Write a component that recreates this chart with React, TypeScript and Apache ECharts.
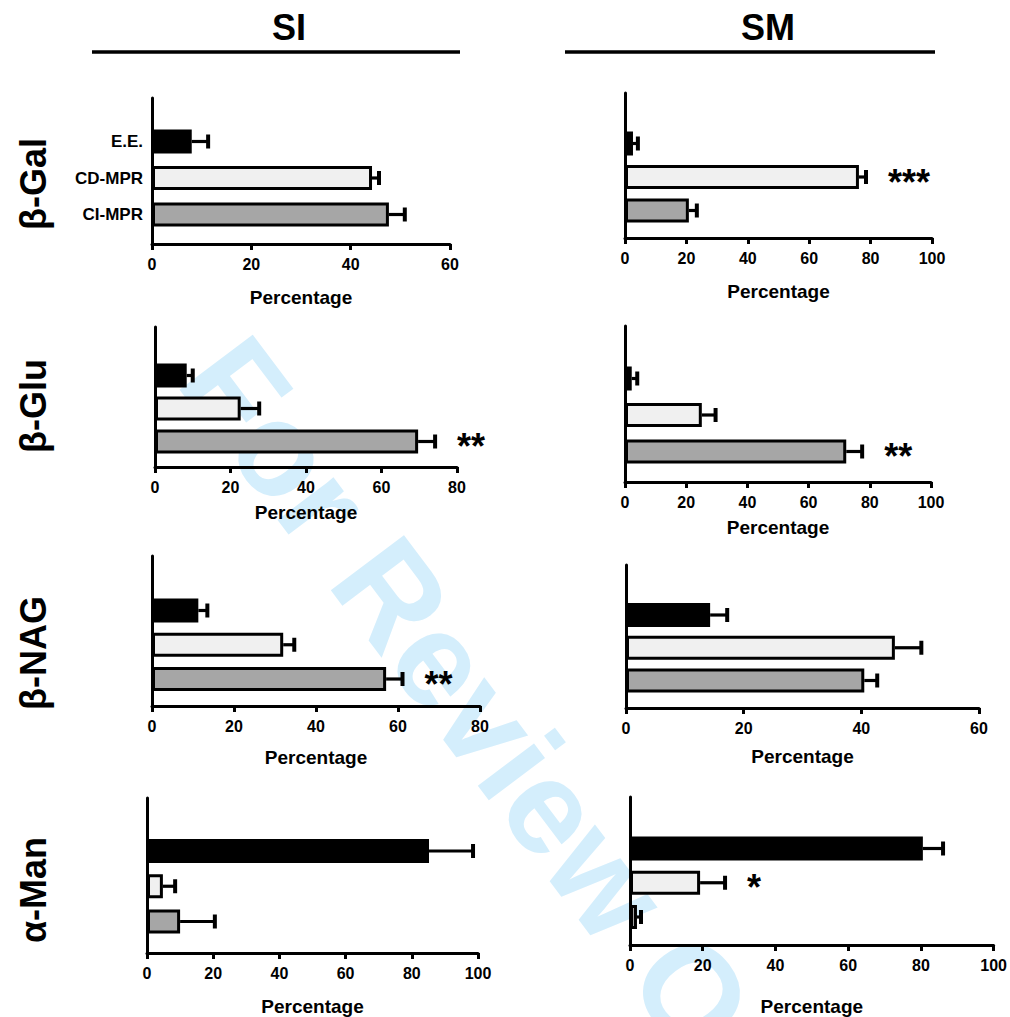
import React, { useEffect, useRef } from "react";
import * as echarts from "echarts";

// ---------- data ----------
const categories = ["E.E.", "CD-MPR", "CI-MPR"];
const barColors = ["#000000", "#f0f0f0", "#a6a6a6"];
const rowTitles = ["β-Gal", "β-Glu", "β-NAG", "α-Man"];
const colTitles = ["SI", "SM"];
const axisName = "Percentage";
const tickInterval = 20;

// panels: SI β-Gal, SM β-Gal, SI β-Glu, SM β-Glu, SI β-NAG, SM β-NAG, SI α-Man, SM α-Man
const axisMax = [60, 100, 80, 100, 80, 60, 100, 100];

const siGalMean = [8.0, 44.3, 47.7];
const siGalErr = [3.3, 1.4, 3.2];
const smGalMean = [2.6, 76.2, 20.8];
const smGalErr = [1.6, 2.3, 2.6];
const siGluMean = [8.4, 22.7, 69.7];
const siGluErr = [1.6, 4.9, 4.5];
const smGluMean = [2.2, 25.1, 72.3];
const smGluErr = [1.8, 4.5, 5.2];
const siNagMean = [11.3, 32.0, 57.1];
const siNagErr = [2.2, 2.7, 4.0];
const smNagMean = [14.3, 45.7, 40.5];
const smNagErr = [2.9, 4.5, 2.2];
const siManMean = [85.2, 4.8, 10.0];
const siManErr = [13.3, 3.7, 10.5];
const smManMean = [79.8, 19.1, 1.9];
const smManErr = [5.5, 6.8, 1.1];

const panelMeans = [siGalMean, smGalMean, siGluMean, smGluMean, siNagMean, smNagMean, siManMean, smManMean];
const panelErrs = [siGalErr, smGalErr, siGluErr, smGluErr, siNagErr, smNagErr, siManErr, smManErr];
const significance = [
  ["", "", ""],
  ["", "***", ""],
  ["", "", "**"],
  ["", "", "**"],
  ["", "", "**"],
  ["", "", ""],
  ["", "", ""],
  ["", "*", ""],
];

// ---------- layout (pixels) ----------
const layout = [
  { yx: 152, top: 98, axisY: 244, xEnd: 450, c0: 141.5, band: 36.5, nameGap: 44 },
  { yx: 625, top: 93, axisY: 238, xEnd: 932, c0: 143.5, band: 33.5, nameGap: 44 },
  { yx: 155, top: 327, axisY: 467, xEnd: 457, c0: 375.5, band: 33, nameGap: 36 },
  { yx: 625, top: 326, axisY: 482, xEnd: 931, c0: 378.5, band: 36.5, nameGap: 36 },
  { yx: 152, top: 556, axisY: 706, xEnd: 480, c0: 610.5, band: 34.25, nameGap: 42 },
  { yx: 626, top: 565, axisY: 708, xEnd: 979, c0: 615, band: 32.75, nameGap: 39 },
  { yx: 147, top: 798, axisY: 953, xEnd: 478, c0: 851, band: 35.25, nameGap: 44 },
  { yx: 630, top: 797, axisY: 945, xEnd: 997, c0: 848.5, band: 34.25, nameGap: 52 },
];
const rowTitleY = [184, 406, 653, 890];
const FONT = "'Liberation Sans', Arial, Helvetica, sans-serif";

function buildOption() {
  const grid: any[] = [];
  const xAxis: any[] = [];
  const yAxis: any[] = [];
  const series: any[] = [];

  panelMeans.forEach((means, i) => {
    const L = layout[i];
    const errs = panelErrs[i];
    const sig = significance[i];
    const w = L.xEnd - L.yx;
    const fi = 2 * i;
    const bi = 2 * i + 1;
    grid.push({ left: L.yx, top: L.top, width: w, height: L.axisY - L.top });
    grid.push({ left: L.yx, top: L.c0 - L.band / 2, width: w, height: 3 * L.band });

    xAxis.push({
      gridIndex: fi,
      type: "value",
      min: 0,
      max: axisMax[i],
      interval: tickInterval,
      axisLine: { show: true, lineStyle: { color: "#000", width: 3 } },
      axisTick: { show: true, length: 6, lineStyle: { color: "#000", width: 3 } },
      axisLabel: { color: "#000", fontWeight: "bold", fontSize: 16, fontFamily: FONT, margin: 12 },
      splitLine: { show: false },
      name: axisName,
      nameLocation: "middle",
      nameGap: L.nameGap,
      nameTextStyle: { color: "#000", fontWeight: "bold", fontSize: 19, fontFamily: FONT },
    });
    xAxis.push({ gridIndex: bi, type: "value", min: 0, max: axisMax[i], show: false });

    yAxis.push({
      gridIndex: fi,
      type: "value",
      min: 0,
      max: 1,
      axisLine: { show: true, lineStyle: { color: "#000", width: 3 } },
      axisTick: { show: false },
      axisLabel: { show: false },
      splitLine: { show: false },
    });
    yAxis.push({
      gridIndex: bi,
      type: "category",
      data: categories,
      inverse: true,
      axisLine: { show: false },
      axisTick: { show: false },
      axisLabel: {
        show: i === 0,
        color: "#000",
        fontWeight: "bold",
        fontSize: 17,
        fontFamily: FONT,
        margin: 9,
      },
    });

    series.push({
      type: "bar",
      xAxisIndex: bi,
      yAxisIndex: bi,
      barWidth: 24,
      data: means.map((v, k) => ({ value: v, itemStyle: { color: barColors[k] } })),
      itemStyle: { borderColor: "#000", borderWidth: 3 },
      z: 3,
    });
    series.push({
      type: "custom",
      xAxisIndex: bi,
      yAxisIndex: bi,
      z: 4,
      data: means.map((v, k) => [v, k, v + errs[k]]),
      encode: { x: [0, 2], y: 1 },
      renderItem: (params: any, api: any) => {
        const m = api.value(0);
        const k = api.value(1);
        const hi = api.value(2);
        const s = api.coord([m, k]);
        const e = api.coord([hi, k]);
        const cap = 14;
        const children: any[] = [
          { type: "line", shape: { x1: s[0], y1: s[1], x2: e[0], y2: e[1] }, style: { stroke: "#000", lineWidth: 3.2 } },
          {
            type: "line",
            shape: { x1: e[0], y1: e[1] - cap / 2, x2: e[0], y2: e[1] + cap / 2 },
            style: { stroke: "#000", lineWidth: 4 },
          },
        ];
        const label = sig[k];
        if (label) {
          children.push({
            type: "text",
            x: e[0] + 22,
            y: e[1] + 5,
            style: {
              text: label,
              font: `bold 36px ${FONT}`,
              fill: "#000",
              textAlign: "left",
              textVerticalAlign: "middle",
            },
          });
        }
        return { type: "group", children };
      },
    });
  });

  const graphic: any[] = [
    {
      type: "text",
      x: 211,
      y: 355,
      rotation: -0.925,
      z: -10,
      style: {
        text: "For Review Only",
        font: `bold 133px ${FONT}`,
        fill: "#d4eefc",
        textAlign: "left",
        textVerticalAlign: "middle",
      },
    },
    {
      type: "text",
      x: 289,
      y: 27,
      style: {
        text: colTitles[0],
        font: `bold 36px 'Liberation Sans Narrow', ${FONT}`,
        fill: "#000",
        textAlign: "center",
        textVerticalAlign: "middle",
      },
    },
    {
      type: "text",
      x: 768,
      y: 27,
      style: {
        text: colTitles[1],
        font: `bold 36px 'Liberation Sans Narrow', ${FONT}`,
        fill: "#000",
        textAlign: "center",
        textVerticalAlign: "middle",
      },
    },
    { type: "line", shape: { x1: 92, y1: 52, x2: 460, y2: 52 }, style: { stroke: "#000", lineWidth: 3.5 } },
    { type: "line", shape: { x1: 565, y1: 52, x2: 935, y2: 52 }, style: { stroke: "#000", lineWidth: 3.5 } },
  ];
  rowTitles.forEach((t, r) => {
    graphic.push({
      type: "text",
      x: 33,
      y: rowTitleY[r],
      rotation: Math.PI / 2,
      style: {
        text: t,
        font: `bold 36px ${FONT}`,
        fill: "#000",
        textAlign: "center",
        textVerticalAlign: "middle",
      },
    });
  });

  return {
    animation: false,
    backgroundColor: "#ffffff",
    grid,
    xAxis,
    yAxis,
    series,
    graphic,
  };
}

export default function App() {
  const ref = useRef<HTMLDivElement>(null);
  useEffect(() => {
    if (!ref.current) return;
    const chart = echarts.init(ref.current, undefined, { renderer: "svg" });
    chart.setOption(buildOption() as any);
    return () => chart.dispose();
  }, []);
  return (
    <div
      ref={ref}
      style={{ position: "absolute", left: 0, top: 0, width: 1010, height: 1017, background: "#fff" }}
    />
  );
}
